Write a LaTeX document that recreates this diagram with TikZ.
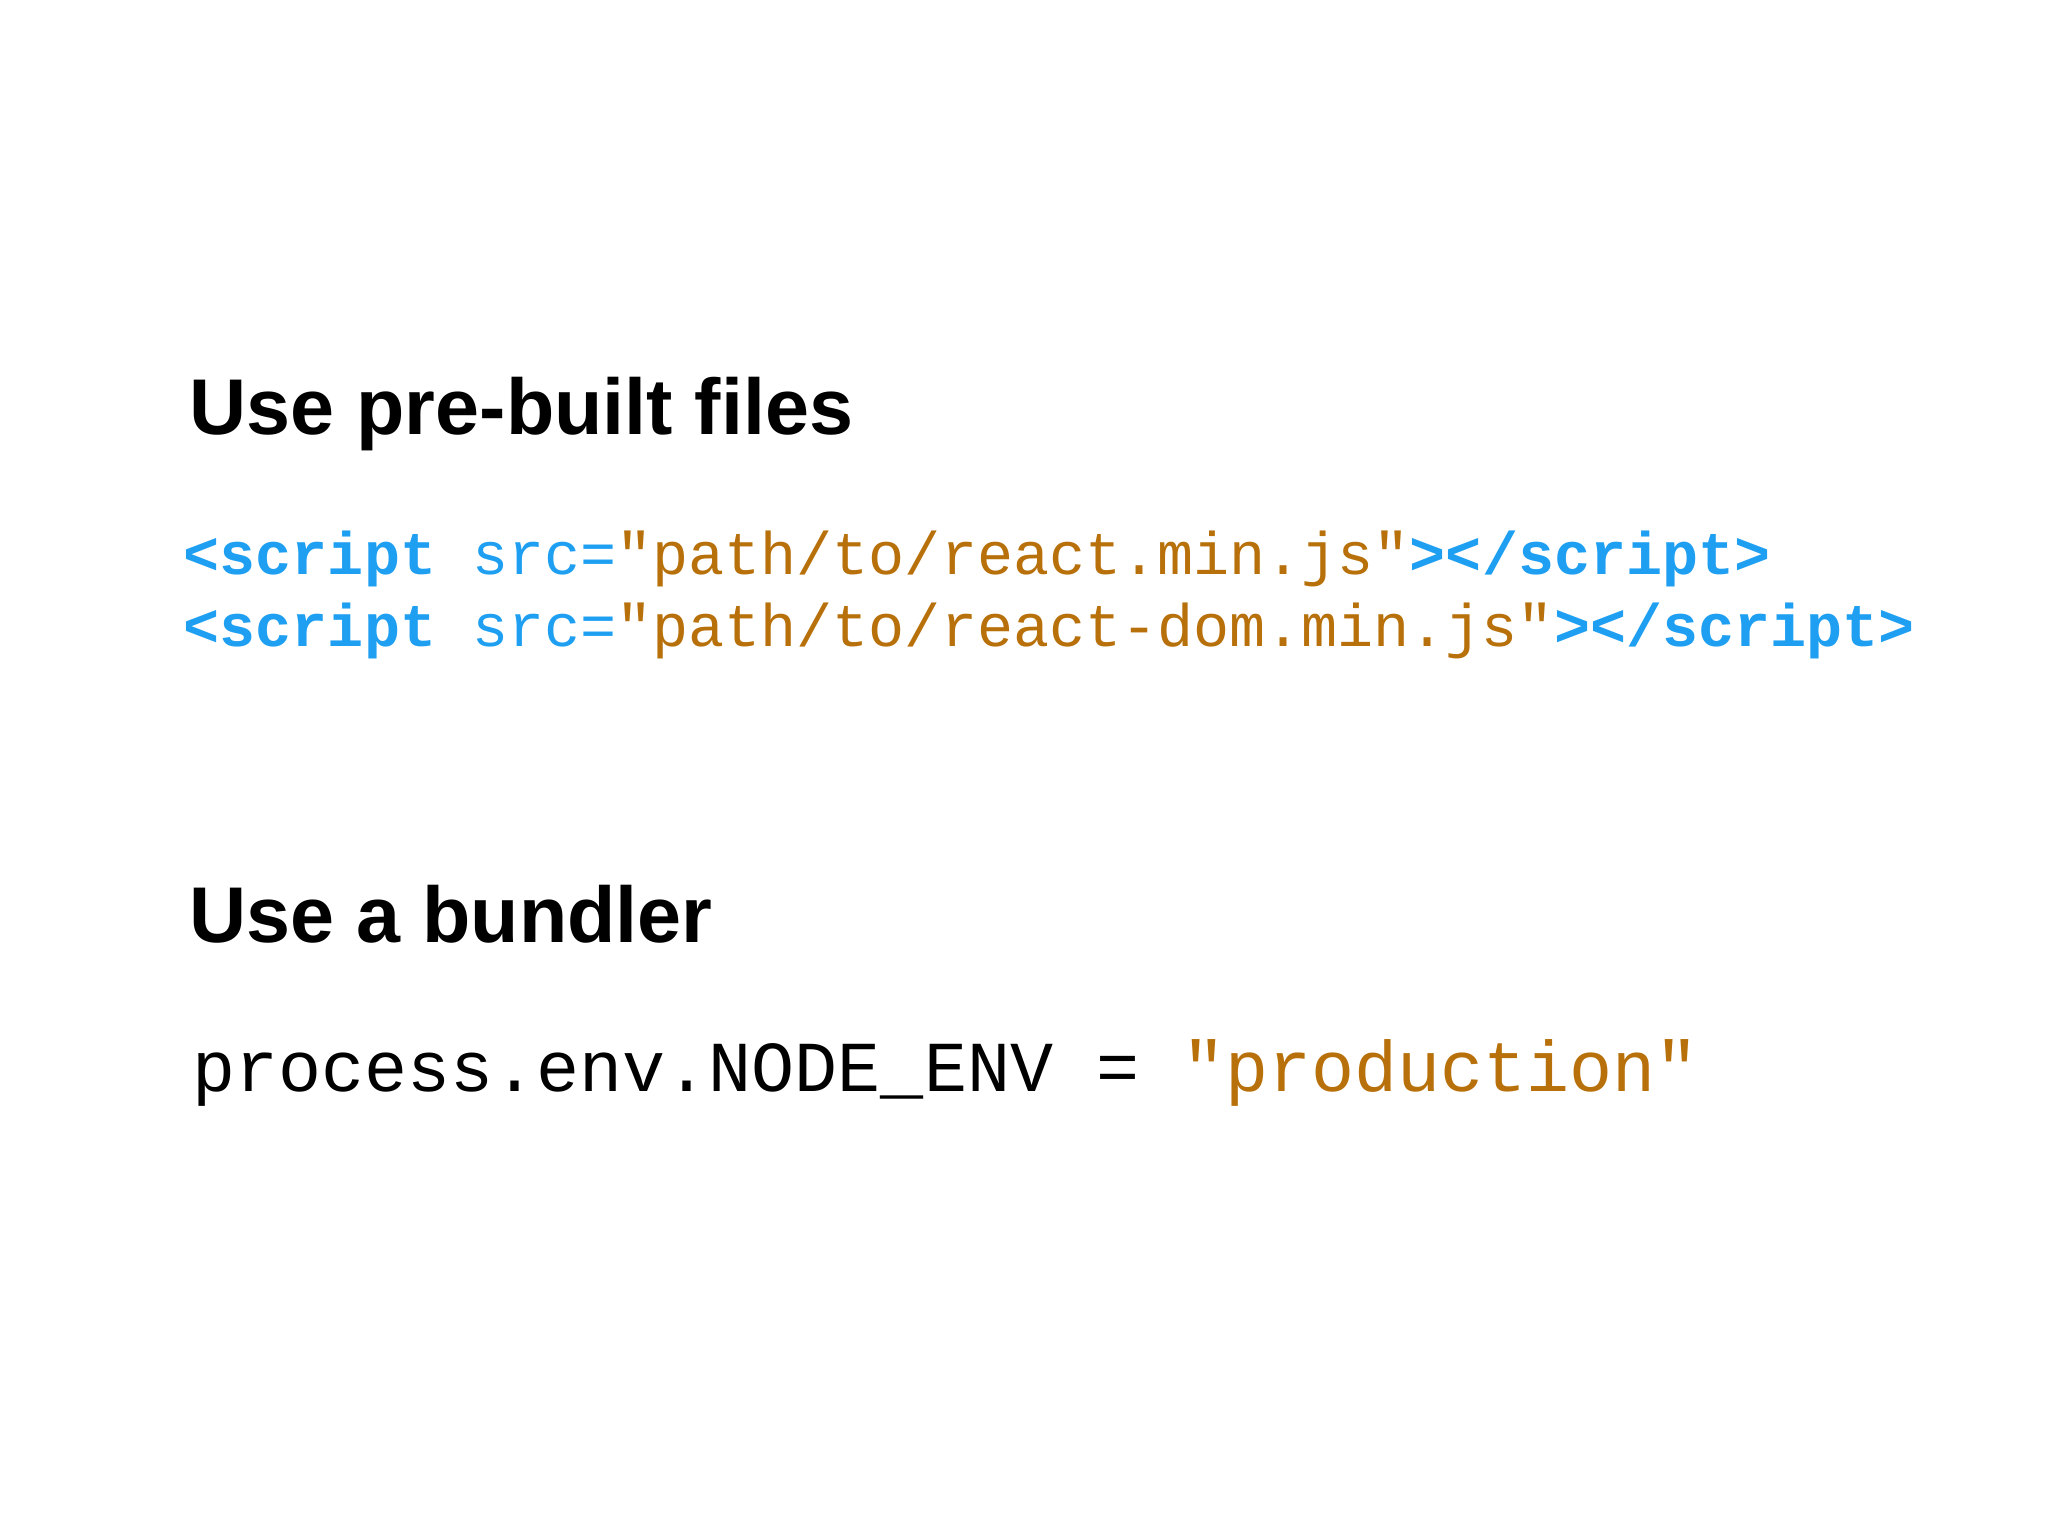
\documentclass[tikz,border=0pt]{standalone}
\usepackage{fontspec}
\setmainfont{Liberation Sans}
\setmonofont{Liberation Mono}
\definecolor{tagblue}{HTML}{1E9FF2}
\definecolor{strbrown}{HTML}{B8700A}
\tikzset{
  title/.style={anchor=base west, inner sep=0pt, font=\fontsize{22.5pt}{26pt}\selectfont\bfseries},
  code/.style={anchor=base west, inner sep=0pt, font=\fontsize{17.1pt}{22pt}\selectfont\ttfamily},
}
\newcommand{\tg}[1]{\textcolor{tagblue}{\bfseries #1}}
\newcommand{\at}[1]{\textcolor{tagblue}{#1}}
\newcommand{\st}[1]{\textcolor{strbrown}{#1}}
\begin{document}
\begin{tikzpicture}[x=1cm,y=1cm]
\useasboundingbox (0,0) rectangle (20.48,-15.36);
\fill[white] (0,0) rectangle (20.48,-15.36);
\node[title] (t1) at (1.89,-4.35) {Use pre-built files};
\node[code] (c1) at (1.83,-5.75) {\tg{<script} \at{src=}\st{"path/to/react.min.js"}\tg{></script>}};
\node[code] (c2) at (1.83,-6.47) {\tg{<script} \at{src=}\st{"path/to/react-dom.min.js"}\tg{></script>}};
\node[title] (t2) at (1.89,-9.43) {Use a bundler};
\node[code, font=\fontsize{20.4pt}{24pt}\selectfont\ttfamily] (c3) at (1.92,-10.91) {process.env.NODE\_ENV = \st{"production"}};
\end{tikzpicture}
\end{document}
